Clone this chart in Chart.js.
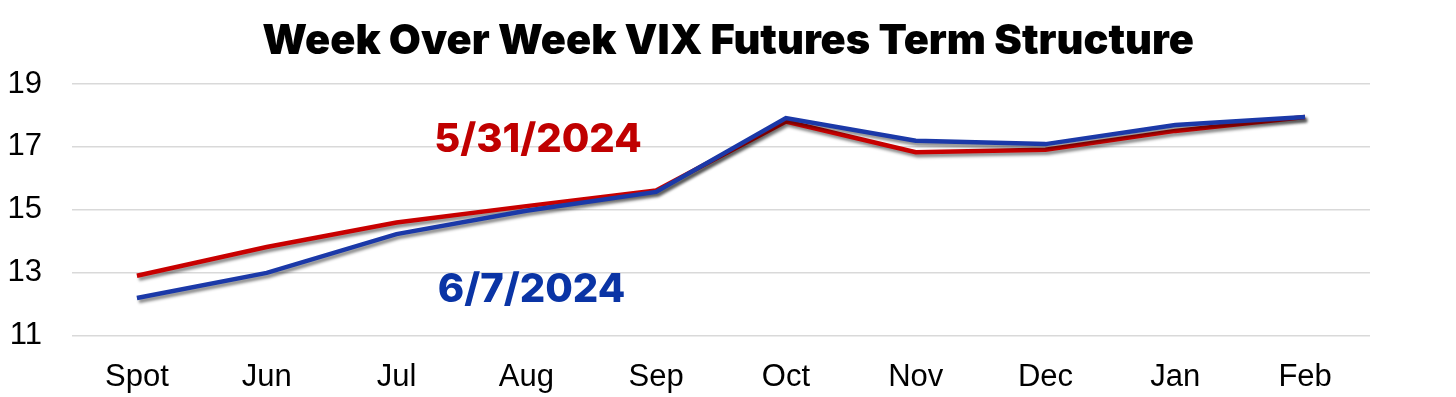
<!DOCTYPE html>
<html>
<head>
<meta charset="utf-8">
<script src="https://cdn.jsdelivr.net/npm/chart.js@4.4.1/dist/chart.umd.min.js"></script>
<style>
    html, body { margin: 0; padding: 0; background: #fff; }
    #wrap { width: 1456px; height: 397px; position: relative; }
</style>
</head>
<body>
<div id="wrap"><canvas id="vixChart"></canvas></div>
<script>
const months = ['Spot', 'Jun', 'Jul', 'Aug', 'Sep', 'Oct', 'Nov', 'Dec', 'Jan', 'Feb'];
const curve0531 = [12.91, 13.82, 14.6, 15.12, 15.62, 17.81, 16.83, 16.91, 17.51, 17.95];
const curve0607 = [12.2, 13.0, 14.23, 14.97, 15.57, 17.92, 17.2, 17.09, 17.7, 17.95];
const yTicks = [11, 13, 15, 17, 19];

const colors = { red: '#c80000', blue: '#1b39a8', redText: '#c00000', blueText: '#0a34a5' };

const titleText = 'Week Over Week VIX Futures Term Structure';

// date labels sit inside the plot, placed in data units
const labelNotes = [
    { text: '5/31/2024', x: 3.09, y: 17.23, color: colors.redText },
    { text: '6/7/2024', x: 3.04, y: 12.45, color: colors.blueText }
];

const shadowPlugin = {
    id: 'lineShadow',
    beforeDatasetDraw(chart) {
        const ctx = chart.ctx;
        ctx.save();
        ctx.shadowColor = 'rgba(0,0,0,0.45)';
        ctx.shadowBlur = 3;
        ctx.shadowOffsetX = 2;
        ctx.shadowOffsetY = 3;
    },
    afterDatasetDraw(chart) {
        chart.ctx.restore();
    }
};

// title centred on the whole canvas, not the plot area
const titlePlugin = {
    id: 'pageTitle',
    afterDraw(chart) {
        const ctx = chart.ctx;
        ctx.save();
        ctx.font = '900 41.5px "Inter", "Liberation Sans", sans-serif';
        ctx.fillStyle = '#000';
        ctx.textAlign = 'center';
        ctx.textBaseline = 'alphabetic';
        ctx.fillText(titleText, chart.width / 2, 54);
        ctx.restore();
    }
};

const notesPlugin = {
    id: 'dateNotes',
    afterDatasetsDraw(chart) {
        const ctx = chart.ctx;
        const xs = chart.scales.x, ys = chart.scales.y;
        ctx.save();
        ctx.font = '800 40px "Inter", "Liberation Sans", sans-serif';
        ctx.textAlign = 'center';
        ctx.textBaseline = 'middle';
        labelNotes.forEach(n => {
            ctx.fillStyle = n.color;
            ctx.fillText(n.text, xs.getPixelForValue(n.x), ys.getPixelForValue(n.y));
        });
        ctx.restore();
    }
};

new Chart(document.getElementById('vixChart'), {
    type: 'line',
    data: {
        labels: months,
        datasets: [
            { label: '6/7/2024', data: curve0607, borderColor: colors.blue, borderWidth: 4.5, pointRadius: 0, tension: 0, fill: false },
            { label: '5/31/2024', data: curve0531, borderColor: colors.red, borderWidth: 4.5, pointRadius: 0, tension: 0, fill: false }
        ]
    },
    options: {
        responsive: true,
        maintainAspectRatio: false,
        animation: false,
        layout: { padding: { left: 0, right: 86, top: 84, bottom: -22 } },
        plugins: {
            legend: { display: false },
            tooltip: { enabled: false },
            title: { display: false }
        },
        scales: {
            x: {
                offset: true,
                grid: { display: false, drawTicks: false },
                border: { display: false },
                ticks: {
                    color: '#000',
                    padding: 23,
                    font: { family: '"Liberation Sans", Arial, sans-serif', size: 31 }
                }
            },
            y: {
                min: 11,
                max: 19,
                afterBuildTicks(axis) { axis.ticks = yTicks.map(v => ({ value: v })); },
                afterFit(axis) { axis.width = 72; },
                grid: { color: '#d9d9d9', lineWidth: 1.5, drawTicks: false },
                border: { display: false },
                ticks: {
                    color: '#000',
                    padding: 30,
                    font: { family: '"Liberation Sans", Arial, sans-serif', size: 31 }
                }
            }
        }
    },
    plugins: [shadowPlugin, notesPlugin, titlePlugin]
});
</script>
</body>
</html>
